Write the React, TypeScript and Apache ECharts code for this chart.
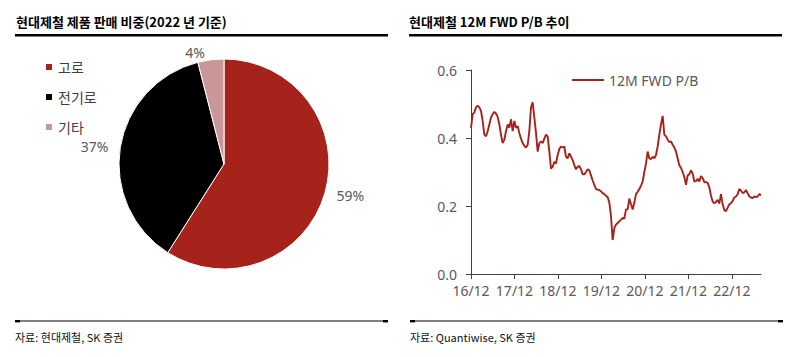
import React, { useEffect, useRef } from "react";
import * as echarts from "echarts";

// ---- Data ----
const PIE_NAMES = ["고로", "전기로", "기타"];
const PIE_VALUES = [59, 37, 4];
const PIE_COLORS = ["#A6231C", "#000000", "#C99797"];

// 12M FWD P/B, sampled roughly every two weeks from 2016/12 to 2023/07
const PB_VALUES = [
  0.43, 0.47, 0.475, 0.49, 0.495, 0.49, 0.48, 0.45, 0.41, 0.405,
  0.42, 0.44, 0.46, 0.47, 0.477, 0.472, 0.462, 0.44, 0.41, 0.385,
  0.395, 0.42, 0.44, 0.43, 0.455, 0.42, 0.45, 0.43, 0.435, 0.415,
  0.398, 0.385, 0.377, 0.372, 0.38, 0.42, 0.49, 0.505, 0.46, 0.415,
  0.36, 0.385, 0.39, 0.385, 0.398, 0.41, 0.405, 0.36, 0.31, 0.315,
  0.33, 0.325, 0.35, 0.368, 0.375, 0.372, 0.375, 0.345, 0.34, 0.355,
  0.345, 0.335, 0.32, 0.308, 0.315, 0.318, 0.308, 0.293, 0.293, 0.3,
  0.308, 0.305, 0.29, 0.275, 0.262, 0.25, 0.248, 0.247, 0.243, 0.238,
  0.235, 0.23, 0.226, 0.21, 0.17, 0.1, 0.135, 0.145, 0.15, 0.155,
  0.16, 0.165, 0.163, 0.19, 0.19, 0.222, 0.205, 0.19, 0.21, 0.235,
  0.242, 0.25, 0.26, 0.272, 0.3, 0.325, 0.36, 0.34, 0.338, 0.345,
  0.34, 0.35, 0.375, 0.41, 0.44, 0.465, 0.41, 0.405, 0.395, 0.388,
  0.39, 0.38, 0.372, 0.36, 0.34, 0.32, 0.312, 0.3, 0.285, 0.262,
  0.29, 0.293, 0.305, 0.295, 0.272, 0.273, 0.28, 0.272, 0.288, 0.282,
  0.27, 0.27, 0.268, 0.255, 0.23, 0.213, 0.208, 0.212, 0.218, 0.207,
  0.235, 0.205, 0.188, 0.185, 0.195, 0.205, 0.208, 0.215, 0.225, 0.228,
  0.235, 0.25, 0.245, 0.238, 0.24, 0.247, 0.238, 0.228, 0.225, 0.223,
  0.228, 0.226, 0.228, 0.235, 0.232,
];
const SAMPLE_STEP_MONTHS = 14 / 30.44; // months between samples
const X_TICK_LABELS = ["16/12", "17/12", "18/12", "19/12", "20/12", "21/12", "22/12"];
const X_TICK_MONTHS = [0, 12, 24, 36, 48, 60, 72];
const LINE_NAME = "12M FWD P/B";

const LEFT_TITLE = "현대제철 제품 판매 비중(2022 년 기준)";
const RIGHT_TITLE = "현대제철 12M FWD P/B 추이";
const LEFT_SOURCE = "자료: 현대제철, SK 증권";
const RIGHT_SOURCE = "자료: Quantiwise, SK 증권";

const KR = '"Noto Sans CJK KR", "Noto Sans", sans-serif';
const LAT = '"Noto Sans", "Noto Sans CJK KR", sans-serif';

export default function App() {
  const ref = useRef<HTMLDivElement>(null);

  useEffect(() => {
    if (!ref.current) return;
    const chart = echarts.init(ref.current, undefined, { renderer: "svg" });
    const lineData = PB_VALUES.map((v, i) => [i * SAMPLE_STEP_MONTHS, v]);
    const xMax = (PB_VALUES.length - 1) * SAMPLE_STEP_MONTHS;

    const footer = (x: number, text: string) => [
      { type: "line", shape: { x1: x, y1: 321, x2: x + 373, y2: 321 }, style: { stroke: "#000", lineWidth: 1.2 } },
      { type: "rect", shape: { x: x, y: 320, width: 5, height: 2.4 }, style: { fill: "#000" } },
      { type: "rect", shape: { x: x + 368, y: 320, width: 5, height: 2.4 }, style: { fill: "#000" } },
      {
        type: "text", x: x, y: 337,
        style: { text, fill: "#111", font: `11px ${KR}`, verticalAlign: "middle" },
      },
    ];

    chart.setOption({
      animation: false,
      backgroundColor: "#fff",
      graphic: [
        { type: "text", x: 16, y: 21, style: { text: LEFT_TITLE, fill: "#000", font: `bold 13px ${KR}`, verticalAlign: "middle" } },
        { type: "rect", shape: { x: 15, y: 34, width: 373, height: 2.5 }, style: { fill: "#000" } },
        { type: "text", x: 409, y: 21, style: { text: RIGHT_TITLE, fill: "#000", font: `bold 13px ${KR}`, verticalAlign: "middle" } },
        { type: "rect", shape: { x: 409, y: 34, width: 373, height: 2.5 }, style: { fill: "#000" } },
        ...footer(15, LEFT_SOURCE),
        ...footer(410, RIGHT_SOURCE),
      ],
      legend: [
        {
          data: PIE_NAMES,
          orient: "vertical",
          left: 39,
          top: 55,
          icon: "rect",
          itemWidth: 8,
          itemHeight: 8,
          itemGap: 16,
          textStyle: { fontSize: 14, color: "#404040", fontFamily: KR, lineHeight: 14 },
        },
        {
          data: [LINE_NAME],
          left: 567,
          top: 68,
          icon: "rect",
          itemWidth: 32,
          itemHeight: 2,
          itemGap: 5,
          textStyle: { fontSize: 14, color: "#595959", fontFamily: LAT },
        },
      ],
      grid: { left: 471, right: 30, top: 70, bottom: 83 },
      xAxis: {
        type: "value",
        min: 0,
        max: xMax,
        interval: 12,
        axisLine: { lineStyle: { color: "#404040", width: 1 } },
        axisTick: { show: true, length: 5, lineStyle: { color: "#404040" }, customValues: X_TICK_MONTHS },
        axisLabel: {
          customValues: X_TICK_MONTHS,
          formatter: (v: number) => X_TICK_LABELS[X_TICK_MONTHS.indexOf(Math.round(v))] ?? "",
          fontSize: 14,
          color: "#595959",
          fontFamily: LAT,
          margin: 9,
        },
        splitLine: { show: false },
      },
      yAxis: {
        type: "value",
        min: 0,
        max: 0.6,
        interval: 0.2,
        axisLine: { show: true, lineStyle: { color: "#404040", width: 1 } },
        axisTick: { show: true, length: 5, lineStyle: { color: "#404040" } },
        axisLabel: {
          formatter: (v: number) => v.toFixed(1),
          fontSize: 14,
          color: "#595959",
          fontFamily: LAT,
          margin: 14,
        },
        splitLine: { show: false },
      },
      series: [
        {
          type: "pie",
          center: [224, 164],
          radius: 105,
          startAngle: 90,
          clockwise: true,
          data: PIE_NAMES.map((n, i) => ({ name: n, value: PIE_VALUES[i], itemStyle: { color: PIE_COLORS[i] } })),
          itemStyle: { borderColor: "#fff", borderWidth: 1 },
          label: {
            show: true,
            position: "outside",
            formatter: "{c}%",
            fontSize: 14,
            color: "#595959",
            fontFamily: LAT,
            distanceToLabelLine: 5,
          },
          labelLine: { show: false, length: 7, length2: 0 },
          emphasis: { disabled: true },
        },
        {
          type: "line",
          name: LINE_NAME,
          data: lineData,
          showSymbol: false,
          symbol: "none",
          lineStyle: { color: "#A6231C", width: 1.9 },
          itemStyle: { color: "#A6231C" },
          emphasis: { disabled: true },
        },
      ],
    });
    return () => chart.dispose();
  }, []);

  return (
    <div
      ref={ref}
      style={{ position: "fixed", left: 0, top: 0, width: 791, height: 357, background: "#fff" }}
    />
  );
}
